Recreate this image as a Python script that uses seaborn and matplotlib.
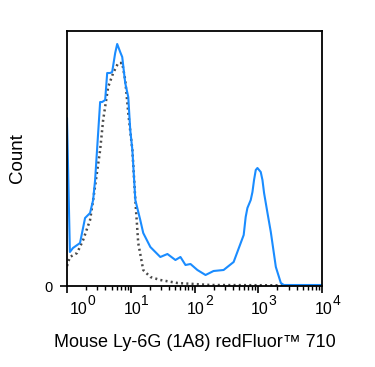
import numpy as np
import pandas as pd
import matplotlib
matplotlib.use("Agg")
import matplotlib.pyplot as plt
import matplotlib.transforms as mtransforms
import seaborn as sns
from matplotlib.ticker import LogLocator, FixedLocator, NullFormatter

# ---- data ----
stained_x = [1.0, 1.11, 1.24, 1.60, 1.92, 2.30, 2.57, 2.76, 3.31, 3.56, 3.97, 4.27, 4.75,
             5.11, 5.70, 6.13, 6.83, 7.35, 8.19, 9.14, 9.82, 10.6, 11.8, 14.1, 15.7, 20.3,
             24.3, 29.1, 37.6, 50.2, 60.2, 72.2, 86.5, 111, 149, 199, 286, 411, 591, 635,
             676, 762, 811, 859, 914, 971, 1094, 1164, 1234, 1396, 1574, 1888, 2262, 2522,
             10000]
stained_y = [168, 34, 38, 43, 68, 73, 86, 106, 184, 184, 186, 213, 213,
             214, 233, 242, 234, 229, 203, 189, 156, 136, 86, 66, 53, 39,
             34, 29, 32, 26, 29, 21, 22, 16, 11, 15, 16, 24, 51, 69,
             78, 86, 94, 106, 116, 118, 114, 106, 93, 73, 54, 19, 3, 1,
             1]

control_x = [1.0, 1.11, 1.44, 1.79, 2.30, 2.57, 3.31, 3.69, 4.42, 5.30, 6.35, 7.35, 8.19,
             9.14, 10.6, 11.8, 13.1, 15.7, 20.3, 29.1, 54, 179, 10000]
control_y = [20, 29, 33, 46, 66, 86, 136, 166, 199, 213, 223, 223, 206,
             173, 136, 86, 43, 16, 9, 6, 3, 1, 0.5]

x_ticks = [1, 10, 100, 1000, 10000]
x_tick_exponents = ["0", "1", "2", "3", "4"]

stained = pd.DataFrame({"x": stained_x, "y": stained_y})
control = pd.DataFrame({"x": control_x, "y": control_y})

# ---- style ----
sns.set_style("ticks")
plt.rcParams["font.family"] = ["Liberation Sans", "DejaVu Sans"]
plt.rcParams["text.color"] = "black"
plt.rcParams["axes.labelcolor"] = "black"
plt.rcParams["xtick.color"] = "black"
plt.rcParams["ytick.color"] = "black"

fig = plt.figure(figsize=(3.75, 3.67), dpi=100)
ax = fig.add_axes([67/375, 1-286/367, (322-67)/375, (286-31)/367])

sns.lineplot(data=control, x="x", y="y", ax=ax, sort=False, estimator=None,
             color="#4a4a4a", linewidth=1.8, linestyle=(0, (0.8, 1.3)))
sns.lineplot(data=stained, x="x", y="y", ax=ax, sort=False, estimator=None,
             color="#1a8cff", linewidth=1.5)

ax.set_xscale("log")
ax.set_xlim(1, 10000)
ax.set_ylim(0, 255)

ax.xaxis.set_major_locator(FixedLocator(x_ticks))
ax.xaxis.set_major_formatter(NullFormatter())
ax.xaxis.set_minor_locator(LogLocator(base=10, subs=np.arange(2, 10), numticks=20))
ax.xaxis.set_minor_formatter(NullFormatter())

# decade labels: "10" with a large raised exponent
for i, (t, e) in enumerate(zip(x_ticks, x_tick_exponents)):
    dx = 8.3 if i == 0 else 1.0
    ax.annotate("10", xy=(t, 0), xycoords=("data", "axes fraction"),
                xytext=(dx, -11.5), textcoords="offset points",
                ha="center", va="top", fontsize=11.5, color="black",
                annotation_clip=False)
    ax.annotate(e, xy=(t, 0), xycoords=("data", "axes fraction"),
                xytext=(dx + 6.4, -6.0), textcoords="offset points",
                ha="left", va="top", fontsize=10, color="black",
                annotation_clip=False)

ax.set_yticks([0])
ax.set_yticklabels(["0"])
for lab in ax.get_yticklabels():
    lab.set_transform(lab.get_transform() +
                      mtransforms.ScaledTranslation(0, 3/72, fig.dpi_scale_trans))

ax.tick_params(axis="both", which="major", direction="out", length=5, width=1.2,
               labelsize=10.5, colors="black")
ax.tick_params(axis="y", which="major", pad=5)
ax.tick_params(axis="x", which="minor", direction="out", length=3, width=1,
               colors="black")

for s in ax.spines.values():
    s.set_visible(True)
    s.set_linewidth(1.3)
    s.set_color("black")

ax.set_xlabel("Mouse Ly-6G (1A8) redFluor\u2122 710", fontsize=13, color="black")
ax.set_ylabel("Count", fontsize=13.5, color="black")
ax.xaxis.set_label_coords(0.5, -0.19)
ax.yaxis.set_label_coords(-0.16, 0.5)

fig.savefig("out.png", dpi=100)
